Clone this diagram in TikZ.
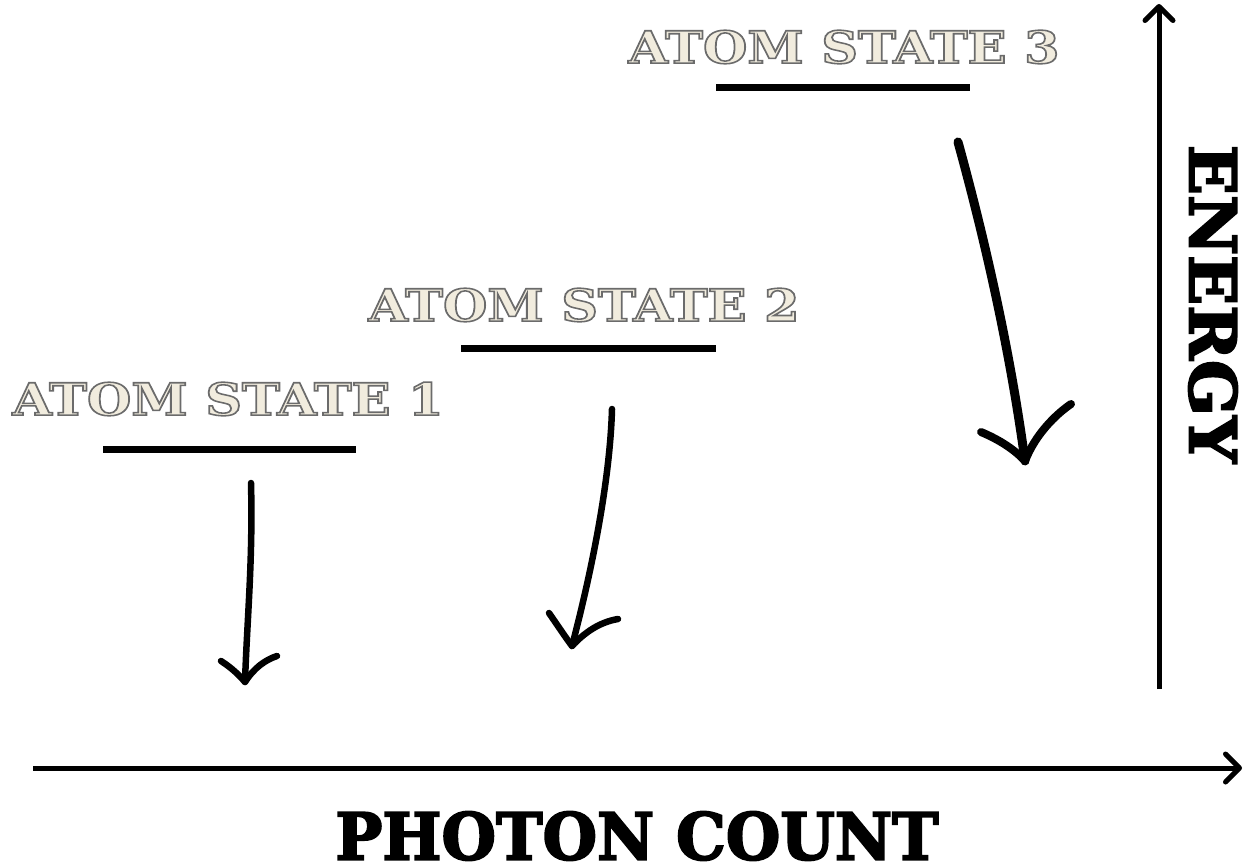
\documentclass[tikz,border=0pt]{standalone}
\usepackage{fontspec}
\setmainfont{DejaVu Serif}
\newfontfamily\outlinefont{DejaVu Serif Bold}[FakeBold=3.5]
\newfontfamily\heavyfont{DejaVu Serif Bold}[FakeBold=3]
\usetikzlibrary{arrows.meta}
\definecolor{cream}{RGB}{241,236,222}
% cream glyphs whose fake-bold stroke is drawn in grey
\newcommand{\statetext}[1]{\resizebox{431pt}{33pt}{\color{cream}\special{pdf:literal direct 0.42 0.42 0.42 RG}\outlinefont #1}}

\begin{document}
\begin{tikzpicture}[x=1pt,y=-1pt,
  statelabel/.style={inner sep=0pt, outer sep=0pt, anchor=center},
  level/.style={line width=7pt},
  axis/.style={line width=5pt, -{Straight Barb[length=14pt,width=28pt,round]}},
  jump/.style={line width=6.5pt, line cap=round, line join=round},
  bigjump/.style={line width=9pt, line cap=round, line join=round}]
\useasboundingbox (0,0) rectangle (1244,867);

% energy levels
\node[statelabel] (s1) at (228,399) {\statetext{ATOM STATE 1}};
\node[statelabel] (s2) at (584,305) {\statetext{ATOM STATE 2}};
\node[statelabel] (s3) at (844,47)  {\statetext{ATOM STATE 3}};

\coordinate (l1a) at (103,449); \coordinate (l1b) at (356,449);
\coordinate (l2a) at (461,348); \coordinate (l2b) at (716,348);
\coordinate (l3a) at (716,87);  \coordinate (l3b) at (970,87);
\draw[level] (l1a) -- (l1b);
\draw[level] (l2a) -- (l2b);
\draw[level] (l3a) -- (l3b);

% hand-drawn decay arrows
\coordinate (j1s) at (251,483); \coordinate (j1t) at (245,682);
\coordinate (j1l) at (221,661); \coordinate (j1r) at (277,656);
\draw[jump] (j1s) .. controls (253,560) and (247,620) .. (j1t);
\draw[jump] (j1l) .. controls (232,668) and (240,676) .. (j1t) .. controls (254,668) and (265,660) .. (j1r);

\coordinate (j2s) at (612,409); \coordinate (j2t) at (572,646);
\coordinate (j2l) at (549,613); \coordinate (j2r) at (618,619);
\draw[jump] (j2s) .. controls (610,480) and (592,570) .. (j2t);
\draw[jump] (j2l) .. controls (558,626) and (566,638) .. (j2t) .. controls (585,632) and (600,622) .. (j2r);

\coordinate (j3s) at (958,142); \coordinate (j3t) at (1025,461);
\coordinate (j3l) at (981,432); \coordinate (j3r) at (1071,404);
\draw[bigjump] (j3s) .. controls (985,240) and (1010,350) .. (j3t);
\draw[jump, line width=8pt] (j3l) .. controls (1000,440) and (1015,450) .. (j3t) .. controls (1035,435) and (1055,415) .. (j3r);

% axes
\coordinate (vy0) at (1159,689); \coordinate (vy1) at (1159,4);
\coordinate (hx0) at (33,768);   \coordinate (hx1) at (1242,768);
\draw[axis] (vy0) -- (vy1);
\draw[axis] (hx0) -- (hx1);

\node[statelabel] (xlab) at (637,836) {\resizebox{603pt}{48pt}{\heavyfont PHOTON COUNT}};
\node[statelabel, rotate=-90] (ylab) at (1213,304) {\resizebox{318pt}{48pt}{\heavyfont ENERGY}};
\end{tikzpicture}
\end{document}
